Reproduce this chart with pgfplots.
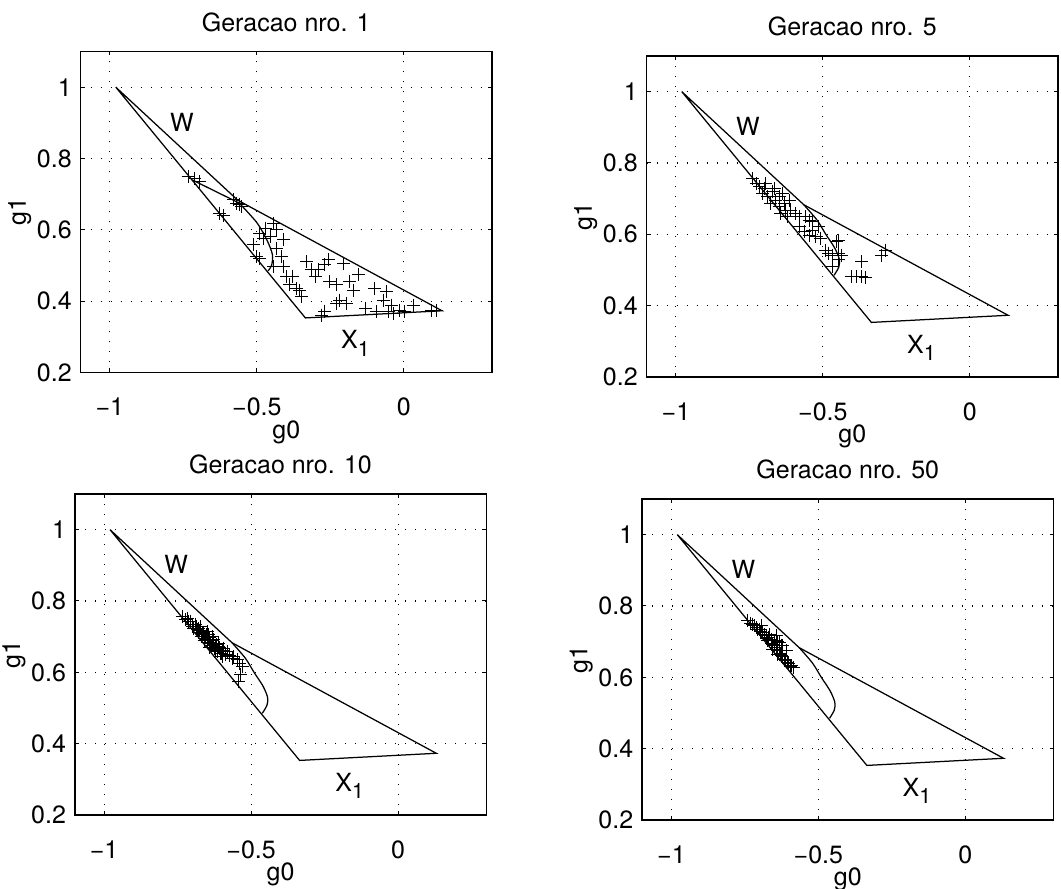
\documentclass[border=0pt]{standalone}
\usepackage{fontspec}
\setmainfont{TeX Gyre Heros}
\usepackage{pgfplots}
\pgfplotsset{compat=1.18}

% 1 px of the reference = 0.4pt
\pgfplotsset{
  gen/.style={
    scale only axis,
    width=164.6pt, height=128.4pt,
    anchor=north west,
    xmin=-1.1, xmax=0.3, ymin=0.2, ymax=1.1,
    xtick={-1,-0.5,0}, xticklabels={−1,−0.5,0},
    ytick={0.2,0.4,0.6,0.8,1}, yticklabels={0.2,0.4,0.6,0.8,1},
    tick align=inside, xtick pos=both, ytick pos=both,
    major tick length=1.6pt,
    tick style={black, line width=0.4pt},
    grid=major,
    major grid style={black, line width=0.45pt, dash pattern=on 0.5pt off 3.5pt},
    axis line style={line width=0.6pt},
    xlabel={g0}, ylabel={g1},
    font=\fontsize{10}{12}\selectfont,
    title style={yshift=-1.6pt},
    xticklabel style={yshift=-6.6pt},
    xlabel style={yshift=5pt},
    ylabel style={yshift=-4.6pt},
    clip=true,
  },
  pts/.style={only marks, mark=+, mark size=2.6pt, mark options={line width=0.4pt}, black},
  bnd/.style={black, line width=0.5pt, mark=none},
}

\newcommand{\region}{%
  \addplot[bnd] coordinates {(-0.98,1.0) (-0.565,0.683) (0.13,0.373) (-0.335,0.353) (-0.98,1.0)};
  \node at (axis cs:-0.755,0.902) {W};
  \node at (axis cs:-0.165,0.282) {X\raisebox{-0.3em}{\fontsize{8.5}{9}\selectfont 1}};
}
\newcommand{\curve}{%
  \addplot[bnd, smooth] coordinates {(-0.565,0.683) (-0.52,0.64) (-0.49,0.60) (-0.46,0.562) (-0.444,0.53) (-0.446,0.508) (-0.462,0.485)};
}

\begin{document}
\begin{tikzpicture}
\useasboundingbox (0,0) rectangle (424.4pt,-355.2pt);

% Geracao 1
\begin{axis}[gen, at={(32.2pt,-20.6pt)}, title={Geracao nro. 1}]
\region
\addplot[bnd] coordinates {(-0.72,0.74) (-0.56,0.675)};
\addplot[bnd, smooth] coordinates {(-0.56,0.675) (-0.50,0.62) (-0.465,0.57) (-0.447,0.53) (-0.45,0.50) (-0.462,0.485)};
\addplot[pts] coordinates {
(-0.734,0.749) (-0.711,0.745) (-0.694,0.735) (-0.626,0.647) (-0.615,0.640)
(-0.580,0.684) (-0.569,0.675) (-0.552,0.665) (-0.560,0.672)
(-0.444,0.618) (-0.433,0.600) (-0.490,0.590) (-0.478,0.576) (-0.512,0.558)
(-0.410,0.572) (-0.501,0.525) (-0.490,0.520) (-0.433,0.548) (-0.416,0.525)
(-0.444,0.497) (-0.410,0.497) (-0.399,0.469) (-0.388,0.446) (-0.365,0.436)
(-0.354,0.431) (-0.348,0.413) (-0.331,0.511) (-0.314,0.488) (-0.291,0.488)
(-0.269,0.502) (-0.257,0.516) (-0.206,0.506) (-0.252,0.455) (-0.229,0.446)
(-0.184,0.455) (-0.172,0.431) (-0.155,0.474) (-0.195,0.394) (-0.229,0.394)
(-0.218,0.403) (-0.280,0.361) (-0.269,0.371) (-0.099,0.436) (-0.059,0.427)
(-0.070,0.403) (-0.042,0.389) (-0.093,0.371) (-0.053,0.371) (-0.036,0.366)
(0.003,0.371) (0.032,0.389) (0.111,0.375) (0.094,0.373) (-0.014,0.375)
(-0.470,0.605) (-0.455,0.580) (-0.380,0.470) (-0.300,0.470) (-0.130,0.380)
};
\end{axis}

% Geracao 5
\begin{axis}[gen, at={(258.6pt,-22.4pt)}, title={Geracao nro. 5}]
\region
\curve
\addplot[pts] coordinates {
(-0.739,0.757) (-0.727,0.743) (-0.716,0.734) (-0.699,0.729) (-0.705,0.715)
(-0.688,0.705) (-0.671,0.719) (-0.677,0.687) (-0.660,0.696) (-0.649,0.705)
(-0.649,0.677) (-0.632,0.687) (-0.643,0.659) (-0.620,0.649) (-0.626,0.668)
(-0.609,0.668) (-0.592,0.659) (-0.581,0.649) (-0.559,0.649) (-0.547,0.640)
(-0.536,0.635) (-0.581,0.621) (-0.564,0.607) (-0.547,0.598) (-0.525,0.593)
(-0.508,0.589) (-0.514,0.621) (-0.536,0.612) (-0.491,0.556) (-0.480,0.547)
(-0.468,0.542) (-0.446,0.547) (-0.435,0.542) (-0.452,0.579) (-0.446,0.528)
(-0.468,0.509) (-0.401,0.481) (-0.384,0.483) (-0.367,0.481) (-0.356,0.479)
(-0.367,0.523) (-0.300,0.542) (-0.288,0.556) (-0.446,0.584) (-0.694,0.743)
(-0.666,0.729) (-0.637,0.715) (-0.615,0.696)
};
\end{axis}

% Geracao 10
\begin{axis}[gen, at={(29.9pt,-197.6pt)}, title={Geracao nro. 10}]
\region
\curve
\addplot[pts] coordinates {
(-0.735,0.757) (-0.718,0.752) (-0.706,0.743) (-0.701,0.729) (-0.684,0.719)
(-0.672,0.729) (-0.667,0.710) (-0.655,0.701) (-0.650,0.715) (-0.644,0.691)
(-0.638,0.682) (-0.627,0.691) (-0.621,0.673) (-0.615,0.663) (-0.610,0.682)
(-0.604,0.654) (-0.593,0.668) (-0.598,0.645) (-0.581,0.659) (-0.559,0.645)
(-0.547,0.635) (-0.536,0.593) (-0.542,0.575) (-0.678,0.722) (-0.661,0.705)
(-0.640,0.671) (-0.632,0.700) (-0.690,0.735) (-0.660,0.690) (-0.620,0.660)
(-0.645,0.705) (-0.612,0.672)
(-0.722,0.748) (-0.712,0.742) (-0.700,0.735) (-0.695,0.722) (-0.686,0.728)
(-0.680,0.712) (-0.675,0.718) (-0.668,0.700) (-0.663,0.712) (-0.657,0.695)
(-0.652,0.705) (-0.648,0.684) (-0.642,0.698) (-0.636,0.675) (-0.630,0.688)
(-0.625,0.668) (-0.619,0.678) (-0.614,0.658) (-0.607,0.670) (-0.602,0.652)
(-0.596,0.662) (-0.588,0.650) (-0.575,0.648) (-0.565,0.640) (-0.540,0.625)
(-0.530,0.615)
};
\end{axis}

% Geracao 50
\begin{axis}[gen, at={(256.8pt,-199.6pt)}, title={Geracao nro. 50}]
\region
\curve
\addplot[pts] coordinates {
(-0.740,0.758) (-0.723,0.749) (-0.712,0.740) (-0.701,0.735) (-0.689,0.726)
(-0.678,0.716) (-0.672,0.702) (-0.661,0.707) (-0.655,0.693) (-0.644,0.716)
(-0.644,0.684) (-0.633,0.674) (-0.627,0.660) (-0.616,0.651) (-0.605,0.642)
(-0.593,0.633) (-0.650,0.702) (-0.667,0.721) (-0.695,0.744) (-0.633,0.698)
(-0.621,0.688) (-0.638,0.665) (-0.655,0.679)
(-0.730,0.752) (-0.718,0.745) (-0.706,0.735) (-0.697,0.728) (-0.684,0.720)
(-0.676,0.708) (-0.668,0.712) (-0.660,0.695) (-0.650,0.690) (-0.640,0.676)
(-0.630,0.668) (-0.622,0.658) (-0.612,0.648) (-0.600,0.640) (-0.596,0.630)
(-0.585,0.628) (-0.640,0.700) (-0.625,0.690) (-0.610,0.675)
};
\end{axis}
\end{tikzpicture}
\end{document}
